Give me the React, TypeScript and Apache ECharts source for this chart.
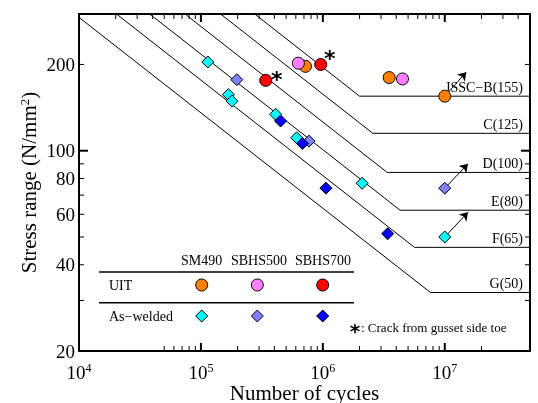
import { useEffect, useRef } from 'react';
import * as echarts from 'echarts';

const FONT = '"Liberation Serif", "Times New Roman", serif';

// JSSC design curves
const classLabels = ['JSSC−B(155)', 'C(125)', 'D(100)', 'E(80)', 'F(65)', 'G(50)'];
const topCycles = [2.76e5, 1.45e5, 7.4e4, 3.8e4, 2.03e4, 1.0e4];
const topStress = [300, 300, 300, 300, 300, 292];
const kneeCycles = [2.0e6, 2.57e6, 3.37e6, 4.3e6, 5.64e6, 7.63e6];
const kneeStress = [155, 115, 84, 62, 46, 32];
const endCycles = 5e7;

// Test data
const uitSM490 = [[7.2e5, 197], [3.5e6, 180], [1.0e7, 155]];
const uitSBHS500 = [[6.3e5, 202], [4.5e6, 178]];
const uitSBHS700 = [[9.6e5, 200], [3.4e5, 176]];
const awSM490 = [[1.14e5, 204], [1.68e5, 157], [1.8e5, 149], [4.1e5, 134], [6.1e5, 111], [2.1e6, 77], [1.0e7, 50]];
const awSBHS500 = [[1.97e5, 177], [7.7e5, 108], [1.0e7, 74]];
const awSBHS700 = [[4.5e5, 127], [6.8e5, 106], [1.06e6, 74], [3.4e6, 51.3]];
const crackOffsets = [[9, -6], [11, -1]];
const runoutFrom = [[1.0e7, 155], [1.0e7, 74], [1.0e7, 50]];
const runoutTo = [[1.5e7, 188], [1.55e7, 90], [1.55e7, 61]];

// Axes
const xMin = 1e4;
const xMax = 5e7;
const yMin = 20;
const yMax = 300;
const xLabelValues = [1e4, 1e5, 1e6, 1e7];
const xMajorTicks = [1e5, 1e6, 1e7];
const xMinorBottom = [5e4, 6e4, 7e4, 8e4, 9e4, 2e5, 3e5, 4e5, 5e5, 6e5, 7e5, 8e5, 9e5, 2e6, 3e6, 4e6, 5e6, 6e6, 7e6, 8e6, 9e6, 2e7];
const xMinorTop = [2e4, 3e4, 4e4, 5e4, 6e4, 7e4, 8e4, 9e4, 2e5, 3e5, 4e5, 5e5, 6e5, 7e5, 8e5, 9e5, 2e6, 3e6, 4e6, 5e6, 6e6, 7e6, 8e6, 9e6, 2e7, 3e7, 4e7];
const yLabelValues = [20, 40, 60, 80, 100, 200];
const yMajorTicks = [100];
const yMinorTicks = [30, 40, 50, 60, 70, 80, 90, 200];

const legendCols = ['SM490', 'SBHS500', 'SBHS700'];
const uitColors = ['#FF8000', '#FF80FF', '#FF0000'];
const awColors = ['#00FFFF', '#8080FF', '#0000FF'];

export default function App() {
  const ref = useRef<HTMLDivElement>(null);
  useEffect(() => {
    const chart = echarts.init(ref.current!, null, { renderer: 'svg' });
    const frameLine = { show: true, lineStyle: { color: '#000', width: 2 } };
    const noLabel = { show: false };

    const sn = classLabels.map((name, i) => ({
      type: 'line',
      name,
      data: [[topCycles[i], topStress[i]], [kneeCycles[i], kneeStress[i]], [endCycles, kneeStress[i]]],
      symbol: 'none',
      lineStyle: { color: '#000', width: 1 },
      clip: true,
      silent: true,
      z: 2,
      markLine: i === 0 ? {
        silent: true,
        symbol: ['none', 'arrow'],
        symbolSize: 8,
        lineStyle: { color: '#000', width: 1, type: 'solid' },
        label: { show: false },
        data: runoutFrom.map((f, k) => [{ coord: f }, { coord: runoutTo[k] }]),
      } : undefined,
    }));

    const scatter = (name: string, data: any[], symbol: string, color: string) => ({
      type: 'scatter', name, data, symbol, symbolSize: 12, z: 10,
      itemStyle: { color, borderColor: '#000', borderWidth: 1, opacity: 1 },
    });

    const diamond = (cx: number, cy: number, color: string) => ({
      type: 'polygon',
      shape: { points: [[cx, cy - 6], [cx + 6, cy], [cx, cy + 6], [cx - 6, cy]] },
      style: { fill: color, stroke: '#000', lineWidth: 1 },
    });
    const colX = [201.7, 257.3, 322.7];
    const txt = (text: string, x: number, y: number, align: string, size = 14, extra: any = {}) => ({
      type: 'text', x, y,
      style: { text, x: 0, y: 0, align, verticalAlign: 'middle', fill: '#000', font: `${size}px ${FONT}`, ...extra },
    });

    const legendGraphics: any[] = [
      ...legendCols.map((c, i) => txt(c, [201.5, 259, 323][i], 260, 'center')),
      { type: 'line', shape: { x1: 99, y1: 272, x2: 354, y2: 272 }, style: { stroke: '#000', lineWidth: 1.5 } },
      txt('UIT', 109, 285, 'left'),
      ...uitColors.map((c, i) => ({ type: 'circle', shape: { cx: colX[i], cy: 285, r: 6 }, style: { fill: c, stroke: '#000', lineWidth: 1 } })),
      { type: 'line', shape: { x1: 99, y1: 302.7, x2: 354, y2: 302.7 }, style: { stroke: '#000', lineWidth: 1.5 } },
      txt('As−welded', 109, 316, 'left'),
      ...awColors.map((c, i) => diamond(colX[i], 316, c)),
      txt('*', 355, 331, 'center', 20, { font: `bold 20px "DejaVu Sans"` }),
      txt(': Crack from gusset side toe', 361, 327, 'left', 13),
    ];

    chart.setOption({
      animation: false,
      textStyle: { fontFamily: FONT },
      grid: { left: 79, right: 8, top: 14, bottom: 52, containLabel: false, outerBoundsMode: 'none' },
      xAxis: [
        {
          type: 'log', logBase: 10, min: xMin, max: xMax, splitLine: { show: false },
          position: 'bottom', axisLine: frameLine, axisTick: { show: false },
          axisLabel: {
            customValues: xLabelValues, margin: 11, color: '#000',
            formatter: (v: number) => `{b|10}{s|${Math.round(Math.log10(v))}}`,
            rich: {
              b: { fontSize: 19, fontFamily: FONT, color: '#000', lineHeight: 20 },
              s: { fontSize: 12, fontFamily: FONT, color: '#000', verticalAlign: 'top', lineHeight: 12 },
            },
          },
          name: 'Number of cycles', nameLocation: 'middle', nameGap: 31, nameMoveOverlap: false,
          nameTextStyle: { fontSize: 21, fontFamily: FONT, color: '#000' },
        },
        {
          type: 'log', logBase: 10, min: xMin, max: xMax, splitLine: { show: false },
          position: 'top', axisLine: frameLine, axisTick: { show: false }, axisLabel: noLabel,
        },
      ],
      yAxis: [
        {
          type: 'log', logBase: 10, min: yMin, max: yMax, splitLine: { show: false },
          position: 'left', axisLine: frameLine, axisTick: { show: false },
          axisLabel: { customValues: yLabelValues, margin: 4, fontSize: 19, fontFamily: FONT, color: '#000' },
          name: 'Stress range (N/mm{s|2})', nameLocation: 'middle', nameGap: 40, nameMoveOverlap: false,
          nameTextStyle: {
            fontSize: 21, fontFamily: FONT, color: '#000',
            rich: { s: { fontSize: 13, fontFamily: FONT, color: '#000', verticalAlign: 'top' } },
          },
        },
        {
          type: 'log', logBase: 10, min: yMin, max: yMax, splitLine: { show: false },
          position: 'right', axisLine: frameLine, axisTick: { show: false }, axisLabel: noLabel,
        },
      ],
      series: [
        ...sn,
        {
          type: 'custom',
          name: 'class labels',
          data: kneeStress.map((s) => [endCycles, s]),
          clip: false,
          silent: true,
          z: 3,
          renderItem: (params: any, api: any) => {
            const p = api.coord([api.value(0), api.value(1)]);
            return {
              type: 'text',
              x: p[0] - 7,
              y: p[1] - 2,
              style: { text: classLabels[params.dataIndex], align: 'right', verticalAlign: 'bottom', fill: '#000', font: `14px ${FONT}` },
            };
          },
        },
        scatter('UIT SM490', uitSM490, 'circle', uitColors[0]),
        scatter('UIT SBHS500', uitSBHS500, 'circle', uitColors[1]),
        scatter('UIT SBHS700', uitSBHS700.map((p, i) => ({
          value: p,
          label: {
            show: true, formatter: '*', position: 'inside', offset: crackOffsets[i],
            fontSize: 22, fontFamily: 'DejaVu Sans', fontWeight: 'bold', color: '#000',
          },
        })), 'circle', uitColors[2]),
        scatter('As-welded SM490', awSM490, 'diamond', awColors[0]),
        scatter('As-welded SBHS500', awSBHS500, 'diamond', awColors[1]),
        scatter('As-welded SBHS700', awSBHS700, 'diamond', awColors[2]),
      ],
    });

    // Tick marks placed through the axes' own scales.
    const px = (v: number) => chart.convertToPixel({ xAxisIndex: 0 }, v) as number;
    const py = (v: number) => chart.convertToPixel({ yAxisIndex: 0 }, v) as number;
    const left = px(xMin);
    const right = px(xMax);
    const bottom = py(yMin);
    const top = py(yMax);
    const tick = (x1: number, y1: number, x2: number, y2: number, w: number) => ({
      type: 'line', z: 50, silent: true,
      shape: { x1, y1, x2, y2 }, style: { stroke: '#000', lineWidth: w },
    });
    const ticks: any[] = [];
    xMajorTicks.forEach((v) => {
      ticks.push(tick(px(v), bottom, px(v), bottom - 8, 2));
      ticks.push(tick(px(v), top, px(v), top + 8, 2));
    });
    xMinorBottom.forEach((v) => ticks.push(tick(px(v), bottom, px(v), bottom - 5, 1)));
    xMinorTop.forEach((v) => ticks.push(tick(px(v), top, px(v), top + 5, 1)));
    yMajorTicks.forEach((v) => {
      ticks.push(tick(left, py(v), left + 9, py(v), 2));
      ticks.push(tick(right, py(v), right - 9, py(v), 2));
    });
    yMinorTicks.forEach((v) => {
      ticks.push(tick(left, py(v), left + 5, py(v), 1));
      ticks.push(tick(right, py(v), right - 5, py(v), 1));
    });

    chart.setOption({ graphic: [...legendGraphics, ...ticks] });
    return () => chart.dispose();
  }, []);
  return <div ref={ref} style={{ position: 'fixed', left: 0, top: 0, width: 538, height: 403 }} />;
}
